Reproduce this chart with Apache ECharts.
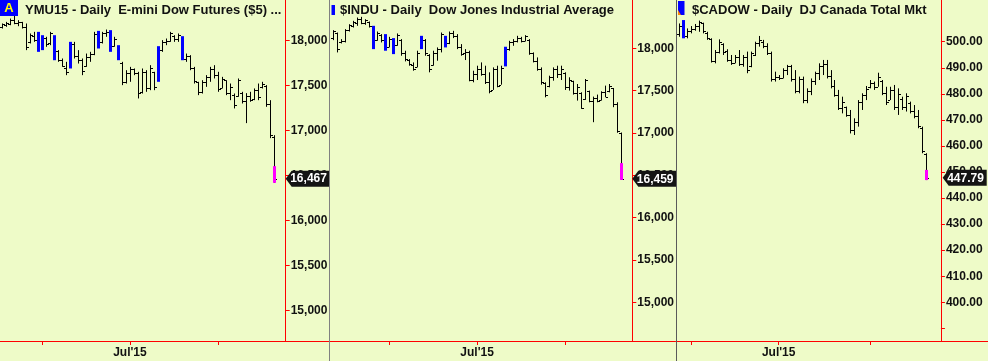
<!DOCTYPE html>
<html><head><meta charset="utf-8">
<script src="https://cdn.jsdelivr.net/npm/echarts@6/dist/echarts.min.js"></script>
<style>html,body{margin:0;padding:0;background:#EEFBC8;}#c{width:988px;height:361px;}</style>
</head><body><div id="c"></div>
<script>
// ---------- DATA ----------
const usDates = ['05/11','05/12','05/13','05/14','05/15','05/18','05/19','05/20','05/21','05/22','05/26','05/27','05/28','05/29',
'06/01','06/02','06/03','06/04','06/05','06/08','06/09','06/10','06/11','06/12','06/15','06/16','06/17','06/18','06/19','06/22','06/23','06/24','06/25','06/26','06/29','06/30',
'07/01','07/02','07/06','07/07','07/08','07/09','07/10','07/13','07/14','07/15','07/16','07/17','07/20','07/21','07/22','07/23','07/24','07/27','07/28','07/29','07/30','07/31',
'08/03','08/04','08/05','08/06','08/07','08/10','08/11','08/12','08/13','08/14','08/17','08/18','08/19','08/20','08/21'];
const ymDates = usDates.slice(4);
const caDates = ['05/27','05/28','05/29',
'06/01','06/02','06/03','06/04','06/05','06/08','06/09','06/10','06/11','06/12','06/15','06/16','06/17','06/18','06/19','06/22','06/23','06/24','06/25','06/26','06/29','06/30',
'07/01','07/02','07/03','07/06','07/07','07/08','07/09','07/10','07/13','07/14','07/15','07/16','07/17','07/20','07/21','07/22','07/23','07/24','07/27','07/28','07/29','07/30','07/31',
'08/03','08/04','08/05','08/06','08/07','08/10','08/11','08/12','08/13','08/14','08/17','08/18','08/19','08/20','08/21'];

// YMU15 (E-mini Dow futures)
const ymHigh = [18191,18209,18246,18283,18228,18209,18191,18080,18098,18098,18061,18043,18098,18061,17895,17802,17765,17987,17987,17895,17802,17857,17876,18098,18109,18098,18124,18117,18043,17950,17765,17672,17709,17691,17654,17691,17672,17728,17654,17939,18006,18024,18098,18061,18080,18050,17857,17839,17709,17543,17561,17617,17709,17728,17654,17598,17561,17524,17413,17580,17432,17417,17432,17469,17524,17543,17506,17339,16950];
const ymLow = [18135,18154,18172,18183,18161,18135,17895,17969,17987,17876,17895,17932,17950,17783,17765,17709,17617,17691,17802,17746,17617,17709,17765,17839,17913,17969,18043,17876,17932,17783,17506,17524,17543,17617,17358,17413,17432,17450,17450,17543,17876,17950,17987,17987,17987,17783,17765,17672,17524,17395,17413,17487,17543,17580,17432,17469,17395,17339,17247,17376,17302,17084,17321,17339,17339,17469,17265,16917,16420];
const ymOpen = [18150,18175,18190,18230,18200,18205,18150,17980,18050,18010,17910,18030,17970,18060,17880,17790,17700,17700,17960,17830,17780,17715,17820,17850,18080,17990,18080,18100,17940,17950,17750,17540,17640,17680,17640,17430,17650,17470,17650,17550,17900,17990,18000,18050,18020,18050,17800,17830,17700,17540,17430,17540,17600,17690,17620,17470,17560,17420,17400,17390,17420,17330,17390,17350,17450,17480,17500,17300,16930];
const ymClose = [18180,18195,18230,18200,18210,18150,17930,18060,18010,17900,18040,17960,18080,17800,17790,17720,17650,17970,17830,17780,17660,17820,17850,18070,17930,18080,18100,17890,18020,17790,17540,17640,17690,17640,17420,17650,17470,17700,17480,17920,17990,18000,18080,18020,18060,17800,17830,17700,17550,17430,17540,17600,17690,17620,17460,17570,17420,17480,17290,17560,17330,17390,17340,17450,17370,17520,17300,16950,16467];
const ymBlue = [9,10,13,17,24,27,29,39,45];
const ymFlashTop = 16606;
const ymTicks = [15000,15500,16000,16500,17000,17500,18000];

// $INDU
const induHigh = [18214,18186,18108,18226,18284,18324,18363,18371,18343,18316,18265,18198,18167,18167,18135,18120,18175,18108,17971,17872,17833,17971,18147,18108,17931,17971,18010,18186,18147,18198,18206,18167,18049,17990,17971,17735,17794,17833,17794,17716,17774,17794,17794,18018,18088,18108,18147,18135,18155,18108,17951,17892,17774,17598,17676,17774,17794,17794,17716,17657,17617,17578,17480,17637,17500,17429,17453,17492,17559,17578,17531,17362,17005];
const induLow = [18096,17951,18057,18069,18198,18245,18265,18284,18277,18245,17990,18088,18069,17971,18010,17931,18029,17912,17845,17794,17735,17774,17990,17912,17716,17794,17853,17951,18010,18049,18120,17990,17912,17861,17610,17598,17625,17676,17578,17468,17508,17539,17570,17786,17971,18029,18069,18069,18080,17923,17833,17735,17570,17421,17539,17617,17649,17625,17508,17500,17453,17382,17284,17390,17362,17127,17362,17382,17421,17480,17304,17002,16445];
const induOpen = [18120,18180,18070,18080,18210,18260,18300,18340,18300,18310,18260,18100,18160,18150,18020,18110,18040,18100,17950,17860,17800,17780,18000,18100,17920,17800,17950,17990,18020,18060,18180,18150,18020,17940,17960,17620,17700,17760,17700,17600,17510,17760,17570,17790,17990,18070,18090,18120,18090,18100,17950,17850,17760,17590,17550,17660,17750,17700,17710,17540,17610,17470,17470,17400,17490,17380,17410,17390,17480,17490,17530,17340,17000];
const induClose = [18200,17990,18090,18210,18270,18310,18340,18300,18330,18260,18010,18180,18100,17990,18110,17950,18160,17940,17870,17810,17760,17950,18130,17940,17760,17950,17990,18170,18140,18180,18150,18010,17930,17960,17630,17700,17760,17700,17600,17500,17760,17560,17770,18000,18070,18090,18120,18080,18140,17950,17850,17760,17600,17450,17660,17750,17700,17760,17540,17630,17470,17540,17300,17620,17380,17410,17380,17480,17420,17550,17340,17020,16459];
const induBlue = [10,13,15,22,28,43];
const induFlashTop = 16644;
const induTicks = [15000,15500,16000,16500,17000,17500,18000];

// $CADOW
const cadHigh = [507.0,508.3,505.1,506.0,506.8,508.1,507.3,503.8,501.3,496.8,500.9,499.4,497.1,494.9,494.9,496.8,494.9,496.2,496.2,500.0,502.2,500.7,499.4,496.2,488.5,487.2,489.8,491.1,491.1,489.1,486.6,486.6,482.1,485.9,488.5,491.7,493.0,493.0,489.1,485.3,481.5,478.9,475.1,473.8,470.6,477.6,480.2,483.0,485.3,484.7,488.1,485.3,482.7,482.7,483.4,482.1,478.9,480.2,477.0,475.7,473.8,467.4,457.2];
const cadLow = [501.9,501.3,501.3,503.2,504.2,503.8,503.2,500.7,492.0,491.7,495.5,494.9,492.3,491.1,491.7,490.7,490.4,487.9,490.2,494.5,498.1,497.5,494.9,484.7,484.7,485.3,485.9,487.2,484.7,480.2,480.2,476.4,476.4,479.5,483.4,485.3,487.2,485.9,482.1,478.9,473.8,472.5,471.2,464.8,464.2,467.4,473.8,477.6,482.1,481.5,482.7,479.5,475.7,477.6,473.8,471.9,473.8,473.2,472.5,470.6,466.8,457.2,446.9];
const cadOpen = [503,505,502,504,505,506,507,503.5,501,492.5,496,499,496.5,493,492,494,491.5,494,490.5,495,499.5,500,498.5,495.5,485.5,486.5,486,489,490.5,485.5,481,485.5,477.5,481,485,488,490.5,491.5,487,483,479.5,474.5,475,472,466,469,477,479.5,482.5,484,482.8,485,480.5,477.8,481.5,475,478,475,476.5,473.5,471.5,467,457];
const cadClose = [506,503,504,505,506,507.5,504,501.5,492.5,496,500,496,493,492,494,491.5,494,489,495.5,499.5,500.5,498.5,495.5,485.5,486.5,486,489,490.5,485.5,481,485.5,477.5,481,485,488,490.5,491.5,487,483,479.5,474.5,477,472,466,469,477,479.5,482,484,482.5,486.5,480.5,477,481.5,475,480,475,479,473.5,471.5,467.5,458,447.79];
const cadBlue = [1];
const cadFlashTop = 450.8;
const cadTicks = [390,400,410,420,430,440,450,460,470,480,490,500];
const cadLabels = [400,410,420,430,440,450,460,470,480,490,500];

const titles = ['YMU15 - Daily  E-mini Dow Futures ($5) ...', '$INDU - Daily  Dow Jones Industrial Average', '$CADOW - Daily  DJ Canada Total Mkt'];

// ---------- LAYOUT / BUILD ----------
const FONT = '"Liberation Sans", Arial, sans-serif';
const BAND = 4.01;
const commaFmt = v => String(Math.round(v)).replace(/\B(?=(\d{3})+(?!\d))/g, ',');
const decFmt = v => Number(v).toFixed(2);

const panels = [
  {dates: ymDates, open: ymOpen, high: ymHigh, low: ymLow, close: ymClose, blue: ymBlue, flash: ymFlashTop,
   ticks: ymTicks, labels: ymTicks, fmt: commaFmt, min: 14663, max: 18452, left: -1, axisX: 285.7, right: 331},
  {dates: usDates, open: induOpen, high: induHigh, low: induLow, close: induClose, blue: induBlue, flash: induFlashTop,
   ticks: induTicks, labels: induTicks, fmt: commaFmt, min: 14543, max: 18570, left: 330.7, axisX: 632.3, right: 677},
  {dates: caDates, open: cadOpen, high: cadHigh, low: cadLow, close: cadClose, blue: cadBlue, flash: cadFlashTop,
   ticks: cadTicks, labels: cadLabels, fmt: decFmt, min: 385.15, max: 516.0, left: 677, axisX: 942.7, right: 989}
];

function renderBar(params, api) {
  const i = api.value(0);
  const top = api.coord([i, api.value(2)]);
  const bot = api.coord([i, api.value(3)]);
  const yO = Math.round(api.coord([i, api.value(1)])[1]) + 0.5;
  const yC = Math.round(api.coord([i, api.value(4)])[1]) + 0.5;
  const xi = Math.round(top[0]);
  const x = xi + 0.5;
  const kind = api.value(5);
  const st = {stroke: '#000', lineWidth: 1};
  if (kind === 1) {
    return {type: 'rect', shape: {x: xi - 1, y: top[1], width: 3, height: Math.max(1, bot[1] - top[1])}, style: {fill: '#0000ff'}};
  }
  const ch = [
    {type: 'line', shape: {x1: x, y1: top[1], x2: x, y2: bot[1]}, style: st},
    {type: 'line', shape: {x1: xi - 2, y1: yO, x2: xi, y2: yO}, style: st},
    {type: 'line', shape: {x1: xi + 1, y1: yC, x2: xi + 3, y2: yC}, style: st}
  ];
  if (kind === 2) {
    const yf = api.coord([i, api.value(6)])[1];
    ch.push({type: 'rect', shape: {x: xi - 1, y: yf, width: 3, height: bot[1] - yf}, style: {fill: '#ff00ff'}});
  }
  return {type: 'group', children: ch};
}

const grids = [], xAxes = [], yAxes = [], series = [];
panels.forEach((p, k) => {
  const n = Math.round((p.right - p.left) / BAND);
  const width = n * BAND;
  const cats = p.dates.concat(new Array(n - p.dates.length).fill(''));
  const isTick = i => i > 0 && i < p.dates.length && p.dates[i].slice(0, 2) !== p.dates[i - 1].slice(0, 2);
  const isJul = i => isTick(i) && p.dates[i].slice(0, 2) === '07';
  grids.push({left: p.left, top: 0, width: width, height: 341});
  xAxes.push({
    type: 'category', gridIndex: k, data: cats, boundaryGap: true,
    axisLine: {show: true, onZero: false, lineStyle: {color: '#ff0000', width: 1}},
    axisTick: {show: true, alignWithLabel: true, interval: (i) => isTick(i), length: 4, lineStyle: {color: '#ff0000'}},
    axisLabel: {show: true, interval: (i) => isJul(i), formatter: () => "Jul'15", color: '#111', fontFamily: FONT, fontWeight: 'bold', fontSize: 12, margin: 6},
    splitLine: {show: false}
  });
  yAxes.push({
    type: 'value', gridIndex: k, position: 'right', offset: p.axisX - (p.left + width),
    min: p.min, max: p.max,
    axisLine: {show: true, lineStyle: {color: '#ff0000', width: 1}},
    axisTick: {show: true, length: 4, customValues: p.ticks, lineStyle: {color: '#ff0000'}},
    axisLabel: {show: true, customValues: p.labels, formatter: p.fmt, color: '#111', fontFamily: FONT, fontWeight: 'bold', fontSize: 12, margin: 5},
    splitLine: {show: false}
  });
  const last = p.dates.length - 1;
  const data = p.dates.map((d, i) => [i, p.open[i], p.high[i], p.low[i], p.close[i],
    p.blue.includes(i) ? 1 : (i === last ? 2 : 0), i === last ? p.flash : p.low[i]]);
  series.push({type: 'custom', xAxisIndex: k, yAxisIndex: k, renderItem: renderBar, data: data,
    encode: {x: 0, y: [1, 2, 3, 4]}, z: 5, silent: true, animation: false});
  series.push({type: 'custom', xAxisIndex: k, yAxisIndex: k, data: [[last, p.close[last]]], z: 20, silent: true, animation: false,
    encode: {x: 0, y: 1},
    renderItem: (params, api) => {
      const y = api.coord([api.value(0), api.value(1)])[1];
      const x0 = p.axisX;
      return {type: 'group', children: [
        {type: 'polygon', shape: {points: [[x0, y], [x0 + 6, y - 8], [x0 + 44, y - 8], [x0 + 44, y + 8], [x0 + 6, y + 8]]}, style: {fill: '#141414'}},
        {type: 'text', x: x0 + 4.5, y: y + 0.5, style: {text: p.fmt(api.value(1)), fill: '#ffffff', fontFamily: FONT, fontWeight: 'bold', fontSize: 12, align: 'left', verticalAlign: 'middle'}}
      ]};
    }
  });
});

const titleStyle = t => ({text: t, fill: '#111', fontFamily: FONT, fontWeight: 'bold', fontSize: 13, align: 'left', verticalAlign: 'middle'});
const graphic = [
  {type: 'rect', shape: {x: 0, y: 0, width: 18, height: 16}, style: {fill: '#0000ff'}, z: 50},
  {type: 'text', x: 9, y: 8.5, style: {text: 'A', fill: '#ffff00', fontFamily: FONT, fontWeight: 'bold', fontSize: 13, align: 'center', verticalAlign: 'middle'}, z: 51},
  {type: 'text', x: 25, y: 10, style: titleStyle(titles[0]), z: 50},
  {type: 'rect', shape: {x: 331.5, y: 5, width: 3.5, height: 10}, style: {fill: '#0000ff'}, z: 50},
  {type: 'text', x: 340, y: 10, style: titleStyle(titles[1]), z: 50},
  {type: 'rect', shape: {x: 678, y: 1, width: 6.5, height: 14}, style: {fill: '#0000ff'}, z: 50},
  {type: 'polygon', shape: {points: [[678, 15], [678, 10], [681, 15]]}, style: {fill: '#ff8800'}, z: 51},
  {type: 'text', x: 692, y: 10, style: titleStyle(titles[2]), z: 50},
  {type: 'line', shape: {x1: 329.5, y1: 0, x2: 329.5, y2: 361}, style: {stroke: '#808080', lineWidth: 1}, z: 60},
  {type: 'line', shape: {x1: 676.5, y1: 0, x2: 676.5, y2: 361}, style: {stroke: '#5a5a5a', lineWidth: 1}, z: 60}
];

const chart = echarts.init(document.getElementById('c'), null, {renderer: 'canvas'});
chart.setOption({
  backgroundColor: '#EEFBC8',
  animation: false,
  grid: grids, xAxis: xAxes, yAxis: yAxes, series: series, graphic: graphic
});
</script></body></html>
